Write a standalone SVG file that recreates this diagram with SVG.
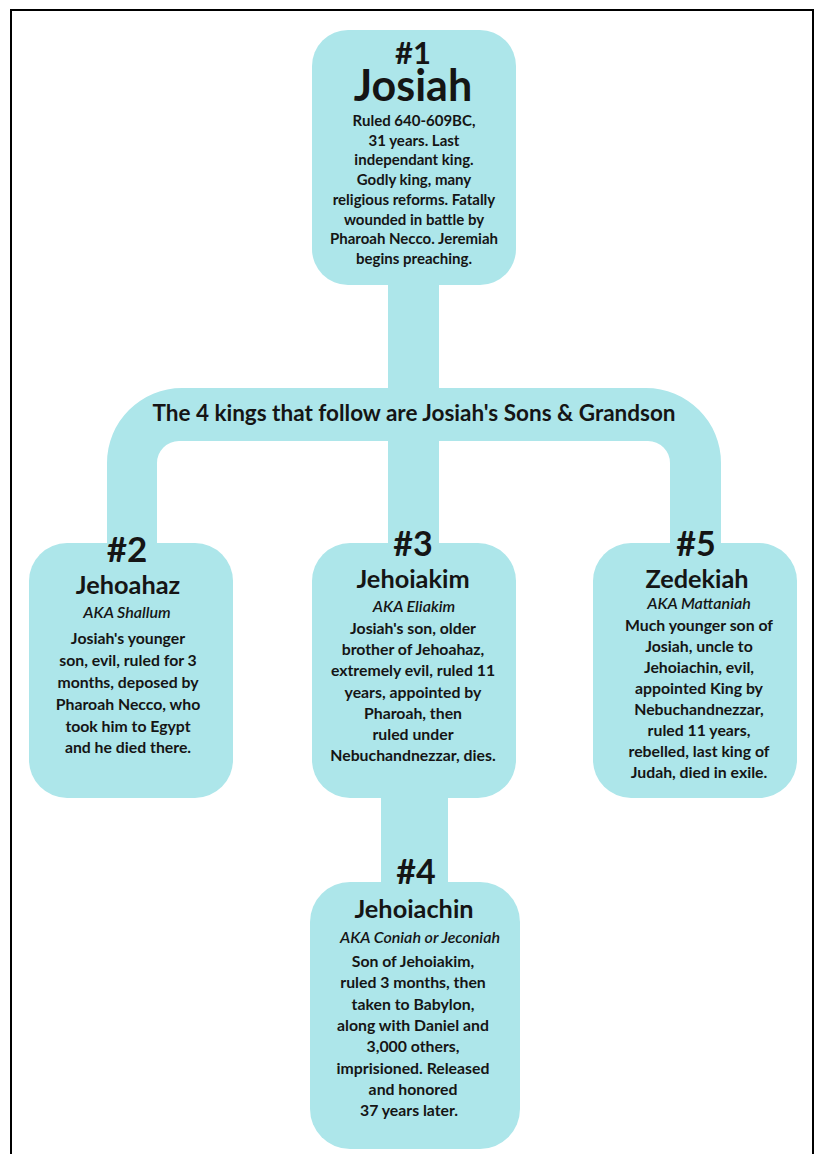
<svg xmlns="http://www.w3.org/2000/svg" width="819" height="1154" viewBox="0 0 819 1154">
<style>
.box{fill:#ADE6EA}
.conn{fill:#ADE6EA}
text{font-family:Lato,"Noto Sans",sans-serif;fill:#151515;text-anchor:middle;font-weight:700}
.num{font-size:34px}
.name{font-size:25.3px}
.aka{font-size:16px;font-style:italic;font-weight:600}
.body{font-size:15.8px}
.body15{font-size:15px}
.title{font-size:22.5px}
</style>
<rect x="11" y="10" width="802" height="1170" fill="#fff" stroke="#000" stroke-width="2"/>
<g id="connectors">
<path class="conn" d="M107,545 L107,463 A75,75 0 0 1 182,388 L388,388 L388,280 L439,280 L439,388 L646,388 A75,75 0 0 1 721,463 L721,545 L670,545 L670,463 A22,22 0 0 0 648,441 L439,441 L439,545 L388,545 L388,441 L179,441 A22,22 0 0 0 157,463 L157,545 Z"/>
<rect class="conn" x="381" y="795" width="67" height="90"/>
<text class="title" x="414" y="421">The 4 kings that follow are Josiah's Sons &amp; Grandson</text>
</g>
<g id="node1">
<rect class="box" x="312" y="30" width="204" height="255" rx="36"/>
<text class="num" x="413" y="64" style="font-size:31px">#1</text>
<text class="name" x="413" y="101" style="font-size:43px">Josiah</text>
<text class="body15" x="414" y="126">Ruled 640-609BC,</text>
<text class="body15" x="414" y="145.7">31 years. Last</text>
<text class="body15" x="414" y="165.4">independant king.</text>
<text class="body15" x="414" y="185.1">Godly king, many</text>
<text class="body15" x="414" y="204.8">religious reforms. Fatally</text>
<text class="body15" x="414" y="224.5">wounded in battle by</text>
<text class="body15" x="414" y="244.2">Pharoah Necco. Jeremiah</text>
<text class="body15" x="414" y="263.9">begins preaching.</text>
</g>
<g id="node2">
<rect class="box" x="29" y="543" width="204" height="255" rx="38"/>
<text class="num" x="127" y="562" style="font-size:35px">#2</text>
<text class="name" x="128" y="594">Jehoahaz</text>
<text class="aka" x="127" y="618">AKA Shallum</text>
<text class="body" x="128" y="644">Josiah's younger</text>
<text class="body" x="128" y="666">son, evil, ruled for 3</text>
<text class="body" x="128" y="688">months, deposed by</text>
<text class="body" x="128" y="710">Pharoah Necco, who</text>
<text class="body" x="128" y="732">took him to Egypt</text>
<text class="body" x="128" y="753">and he died there.</text>
</g>
<g id="node3">
<rect class="box" x="312" y="543" width="204" height="255" rx="38"/>
<text class="num" x="413" y="556">#3</text>
<text class="name" x="413" y="588">Jehoiakim</text>
<text class="aka" x="414" y="612">AKA Eliakim</text>
<text class="body" x="413" y="634">Josiah's son, older</text>
<text class="body" x="413" y="655.2">brother of Jehoahaz,</text>
<text class="body" x="413" y="676.4">extremely evil, ruled 11</text>
<text class="body" x="413" y="697.6">years, appointed by</text>
<text class="body" x="413" y="718.8">Pharoah, then</text>
<text class="body" x="413" y="740">ruled under</text>
<text class="body" x="413" y="761.2">Nebuchandnezzar, dies.</text>
</g>
<g id="node5">
<rect class="box" x="593" y="543" width="204" height="255" rx="38"/>
<text class="num" x="696" y="556">#5</text>
<text class="name" x="697" y="588">Zedekiah</text>
<text class="aka" x="699" y="609">AKA Mattaniah</text>
<text class="body" x="699" y="631">Much younger son of</text>
<text class="body" x="699" y="652">Josiah, uncle to</text>
<text class="body" x="699" y="673">Jehoiachin, evil,</text>
<text class="body" x="699" y="694">appointed King by</text>
<text class="body" x="699" y="715">Nebuchandnezzar,</text>
<text class="body" x="699" y="736">ruled 11 years,</text>
<text class="body" x="699" y="757">rebelled, last king of</text>
<text class="body" x="699" y="778">Judah, died in exile.</text>
</g>
<g id="node4">
<rect class="box" x="310" y="882" width="210" height="267" rx="40"/>
<text class="num" x="416" y="884">#4</text>
<text class="name" x="414" y="918">Jehoiachin</text>
<text class="aka" x="420" y="943">AKA Coniah or Jeconiah</text>
<text class="body" x="413" y="967">Son of Jehoiakim,</text>
<text class="body" x="413" y="988.3">ruled 3 months, then</text>
<text class="body" x="413" y="1009.6">taken to Babylon,</text>
<text class="body" x="413" y="1030.9">along with Daniel and</text>
<text class="body" x="413" y="1052.2">3,000 others,</text>
<text class="body" x="413" y="1073.5">imprisioned. Released</text>
<text class="body" x="413" y="1094.8">and honored</text>
<text class="body" x="409" y="1116.1">37 years later.</text>
</g>
</svg>
